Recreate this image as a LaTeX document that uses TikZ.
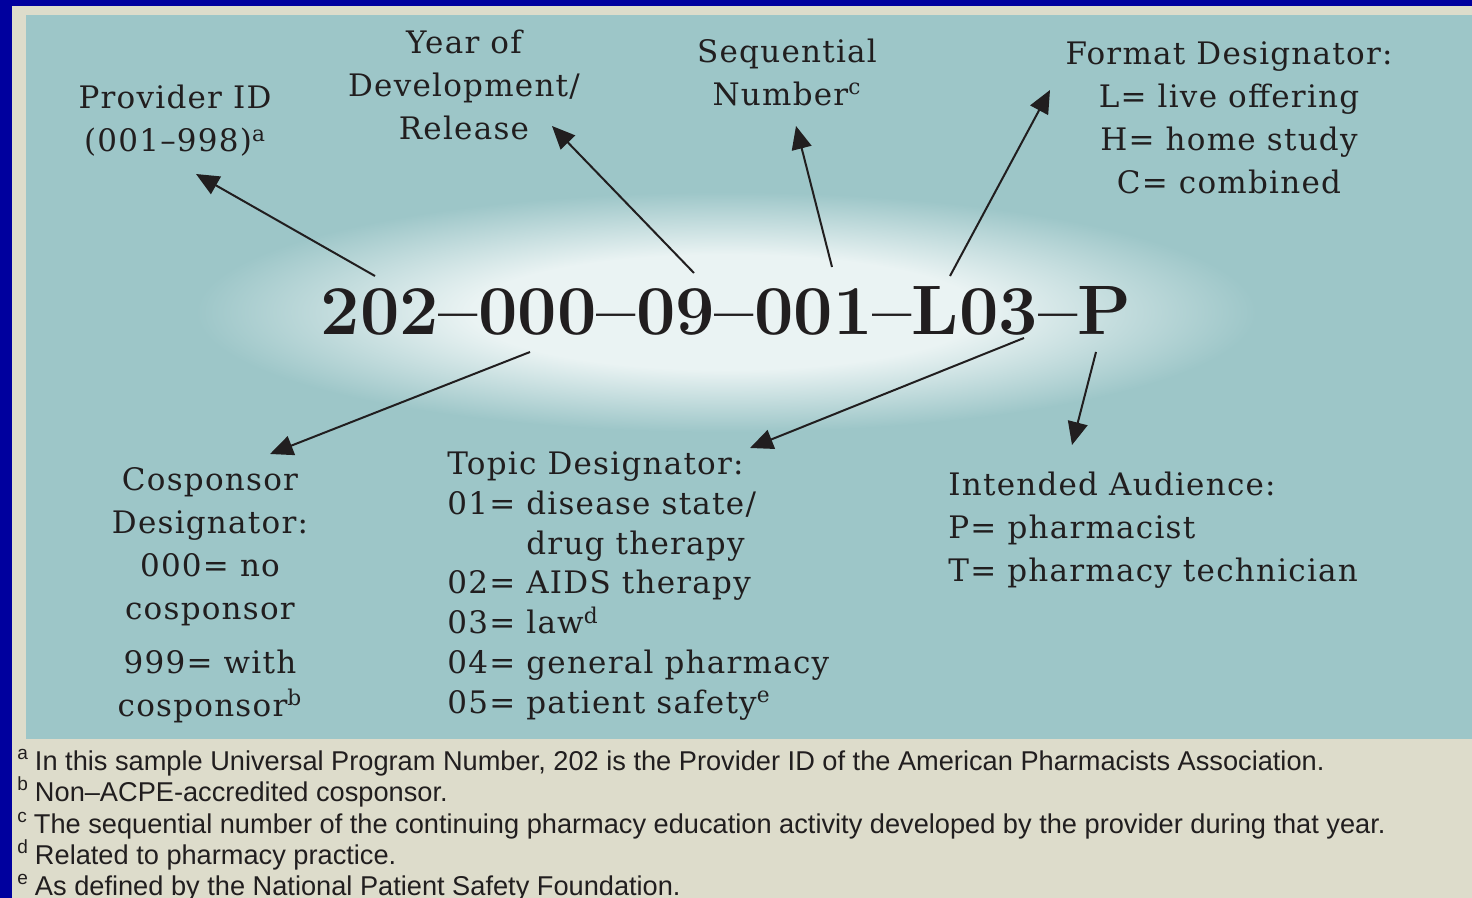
\documentclass[tikz,border=0pt]{standalone}
\usepackage{fontspec}
\usetikzlibrary{arrows.meta}

\newfontfamily\cheltfont[LetterSpace = 4]{DejaVu Serif}
\newfontfamily\notefont{Liberation Sans}

\definecolor{frameblue}{RGB}{0,0,158}
\definecolor{paper}{RGB}{221,220,203}
\definecolor{panel}{RGB}{157,198,200}
\definecolor{glow}{RGB}{234,243,243}
\definecolor{ink}{RGB}{33,30,31}

\pgfdeclareradialshading{glowshade}{\pgfpoint{0bp}{0bp}}{%
  color(0bp)=(glow); color(12bp)=(glow); color(25bp)=(panel); color(50bp)=(panel)}

\tikzset{
  lbl/.style = {font = \cheltfont\fontsize{15.5}{21.5}\selectfont, text = ink, inner sep = 0, align = center},
  lbllist/.style = {lbl, align = left, anchor = west},
  note/.style = {font = \notefont\fontsize{13.6}{15}\selectfont, text = ink, inner sep = 0, anchor = base west},
  pointer/.style = {draw = ink, line width = 1pt, -{Triangle[length = 11.5pt, width = 10pt]}}
}

\begin{document}
\begin{tikzpicture}[x = 0.5pt, y = -0.5pt]
    \useasboundingbox (0, 0) rectangle (1472, 898);

    % frame, panel and glow
    \fill [frameblue] (0, 0) rectangle (1472, 898);
    \fill [paper] (12, 6) rectangle (1472, 898);
    \fill [panel] (26, 15) rectangle (1472, 739);
    \shade [shading = glowshade] (726, 312) ellipse [x radius = 530, y radius = 120];

    \node [font = \fontsize{35}{40}\selectfont\bfseries, text = ink, inner sep = 0] (num) at (726, 311) {202–000–09–001–L03–P};

    \node [lbl] (pid) at (175, 121) {Provider ID\\(001–998)\textsuperscript{a}};
    \node [lbl] (year) at (464, 85) {Year of\\Development/\\Release};
    \node [lbl] (seq) at (787, 72) {Sequential\\Number\textsuperscript{c}};
    \node [lbl] (fmt) at (1229, 118) {Format Designator:\\L= live offering\\H= home study\\C= combined};
    \node [lbl] (cosp) at (210, 595) {Cosponsor\\Designator:\\000= no\\cosponsor\\[5.5pt]999= with\\cosponsor\textsuperscript{b}};
    \node [lbllist, font = \cheltfont\fontsize{15.5}{19.85}\selectfont] (topic) at (447, 586)
        {Topic Designator:\\01= disease state/\\\phantom{01= }drug therapy\\02= AIDS therapy\\03= law\textsuperscript{d}\\04= general pharmacy\\05= patient safety\textsuperscript{e}};
    \node [lbllist] (aud) at (948, 530) {Intended Audience:\\P= pharmacist\\T= pharmacy technician};

    % arrow ends
    \coordinate (pid-from) at (375, 276);    \coordinate (pid-to) at (196, 174);
    \coordinate (year-from) at (694, 273);   \coordinate (year-to) at (552, 126);
    \coordinate (seq-from) at (832, 267);    \coordinate (seq-to) at (796, 126);
    \coordinate (fmt-from) at (950, 276);    \coordinate (fmt-to) at (1050, 90);
    \coordinate (cosp-from) at (530, 352);   \coordinate (cosp-to) at (270, 454);
    \coordinate (topic-from) at (1024, 338); \coordinate (topic-to) at (750, 448);
    \coordinate (aud-from) at (1096, 352);   \coordinate (aud-to) at (1072, 445);

    \foreach \n in {pid, year, seq, fmt, cosp, topic, aud}
        \draw [pointer] (\n-from) -- (\n-to);

    % footnotes
    \foreach \k/\fnl/\txt in {770/a/{In this sample Universal Program Number, 202 is the Provider ID of the American Pharmacists Association.},
                              801/b/{Non–ACPE-accredited cosponsor.},
                              833/c/{The sequential number of the continuing pharmacy education activity developed by the provider during that year.},
                              864/d/{Related to pharmacy practice.},
                              895/e/{As defined by the National Patient Safety Foundation.}} {
        \node [note] (fn\fnl) at (17, \k) {\textsuperscript{\fnl}\hspace{3pt}\txt};
    }

\end{tikzpicture}
\end{document}
